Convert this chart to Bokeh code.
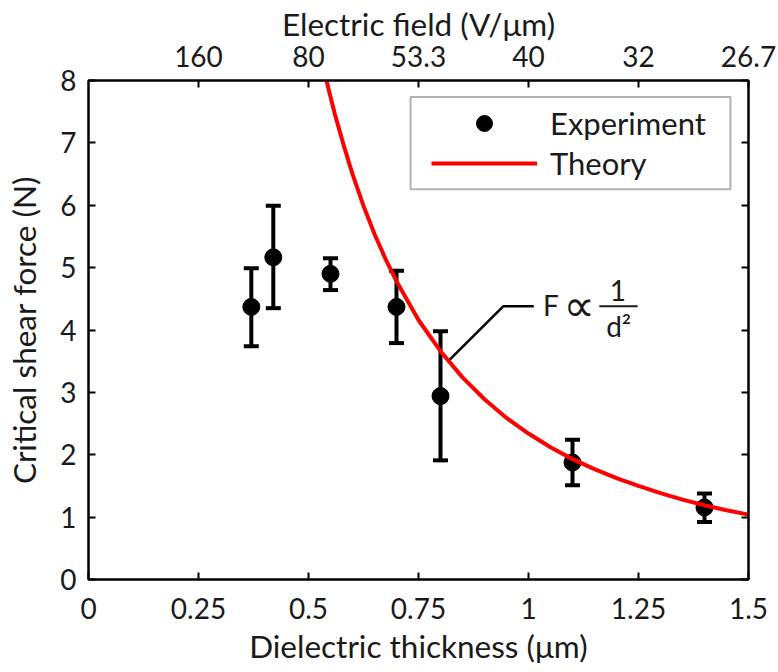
from bokeh.plotting import figure
from bokeh.models import (LinearAxis, FixedTicker, Range1d, Legend, LegendItem,
                          BoxAnnotation, Label)
from bokeh.embed import file_html
from bokeh.resources import INLINE

# ---------------- data ----------------
thickness = [0.37, 0.42, 0.55, 0.70, 0.80, 1.10, 1.40]
force = [4.37, 5.165, 4.90, 4.37, 2.94, 1.875, 1.155]
force_low = [3.74, 4.35, 4.64, 3.79, 1.91, 1.51, 0.92]
force_high = [4.99, 5.99, 5.15, 4.95, 3.98, 2.24, 1.38]

theory_d = [0.54, 0.56, 0.58, 0.60, 0.625, 0.65, 0.675, 0.70, 0.75, 0.80, 0.85,
            0.90, 0.95, 1.00, 1.05, 1.10, 1.15, 1.20, 1.25, 1.30, 1.35, 1.40,
            1.45, 1.50]
theory_f = [8.02, 7.46, 6.96, 6.50, 5.99, 5.54, 5.14, 4.78, 4.16, 3.66, 3.24,
            2.89, 2.59, 2.34, 2.12, 1.93, 1.77, 1.625, 1.50, 1.385, 1.28, 1.19,
            1.11, 1.04]

x_ticks = [0, 0.25, 0.5, 0.75, 1.0, 1.25, 1.5]
x_tick_labels = ["0", "0.25", "0.5", "0.75", "1", "1.25", "1.5"]
field_ticks = [0.25, 0.5, 0.75, 1.0, 1.25, 1.5]
field_labels = ["160", "80", "53.3", "40", "32", "26.7"]
y_ticks = [0, 1, 2, 3, 4, 5, 6, 7, 8]
y_tick_labels = ["0", "1", "2", "3", "4", "5", "6", "7", "8"]

FONT = "Lato"
TXT = "#1a1a1a"
TICK_FS = "28px"
LABEL_FS = "31.5px"

p = figure(frame_width=660, frame_height=499,
           x_range=Range1d(0, 1.5), y_range=Range1d(0, 8),
           output_backend="svg", toolbar_location=None,
           min_border_left=88, min_border_right=30,
           min_border_top=80, min_border_bottom=92)
p.grid.visible = False
p.outline_line_color = "black"
p.outline_line_width = 2
p.background_fill_color = "white"
p.border_fill_color = "white"


def style_axis(ax, ticks, labels, label_standoff, show_labels=True):
    ax.ticker = FixedTicker(ticks=ticks)
    ax.major_label_overrides = {t: l for t, l in zip(ticks, labels)}
    ax.major_tick_in = 7
    ax.major_tick_out = 0
    ax.minor_tick_line_color = None
    ax.major_tick_line_width = 2
    ax.axis_line_width = 2
    ax.axis_line_color = "black"
    ax.major_tick_line_color = "black"
    ax.major_label_text_font = FONT
    ax.major_label_text_font_size = TICK_FS if show_labels else "0px"
    ax.major_label_text_color = TXT
    ax.major_label_standoff = label_standoff
    ax.axis_label_text_font = FONT
    ax.axis_label_text_font_size = LABEL_FS
    ax.axis_label_text_font_style = "normal"
    ax.axis_label_text_color = TXT


xb = p.xaxis[0]
style_axis(xb, x_ticks, x_tick_labels, 18)
xb.axis_label = "Dielectric thickness (\u03bcm)"
xb.axis_label_standoff = 5

yl = p.yaxis[0]
style_axis(yl, y_ticks, y_tick_labels, 12)
yl.axis_label = "Critical shear force (N)"
yl.axis_label_standoff = 14

top = LinearAxis()
style_axis(top, field_ticks, field_labels, 14)
top.axis_label = "Electric field (V/\u03bcm)"
top.axis_label_standoff = 0
p.add_layout(top, "above")

right = LinearAxis()
style_axis(right, y_ticks, ["" for _ in y_ticks], 0, show_labels=False)
p.add_layout(right, "right")

# ---------------- marks ----------------
p.segment(x0=thickness, y0=force_low, x1=thickness, y1=force_high,
          line_color="black", line_width=4)
p.scatter(thickness, force_high, marker="dash", size=15, line_width=4,
          line_color="black")
p.scatter(thickness, force_low, marker="dash", size=15, line_width=4,
          line_color="black")
exp_r = p.scatter(thickness, force, marker="circle", size=17,
                  fill_color="black", line_color="black")
th_r = p.line(theory_d, theory_f, line_color="#ff0000", line_width=4)

# ---------------- annotation F ∝ 1/d² ----------------
p.line([0.821, 0.9425, 1.012], [3.526, 4.38, 4.38], line_color="black",
       line_width=2.5)
p.add_layout(Label(x=1.033, y=4.40, text="F", text_font=FONT,
                   text_font_size="28px", text_color=TXT,
                   text_baseline="middle", text_align="left"))
p.add_layout(Label(x=1.115, y=4.40, text="\u221d", text_font="DejaVu Sans",
                   text_font_size="44px", text_color=TXT,
                   text_baseline="middle", text_align="center"))
p.segment(x0=[1.161], y0=[4.38], x1=[1.248], y1=[4.38], line_color=TXT,
          line_width=2)
p.add_layout(Label(x=1.203, y=4.64, text="1", text_font=FONT,
                   text_font_size="28px", text_color=TXT,
                   text_baseline="middle", text_align="center"))
p.add_layout(Label(x=1.205, y=4.06, text="d\u00b2", text_font=FONT,
                   text_font_size="28px", text_color=TXT,
                   text_baseline="middle", text_align="center"))

# ---------------- legend ----------------
p.add_layout(BoxAnnotation(left=0.732, right=1.459, top=7.734, bottom=6.255,
                           fill_color="white", fill_alpha=1.0,
                           line_color="black", line_width=2))
pad = 6
legend = Legend(items=[LegendItem(label="Experiment", renderers=[exp_r]),
                       LegendItem(label="Theory", renderers=[th_r])],
                location=(431 - pad - 88, 579 - 189),
                padding=pad, spacing=0, glyph_width=106, glyph_height=40,
                label_height=40, label_standoff=13,
                label_text_font=FONT, label_text_font_size="31px",
                label_text_color=TXT,
                border_line_alpha=0, background_fill_alpha=0)
p.add_layout(legend)

open("out.html", "w").write(file_html(p, INLINE))
